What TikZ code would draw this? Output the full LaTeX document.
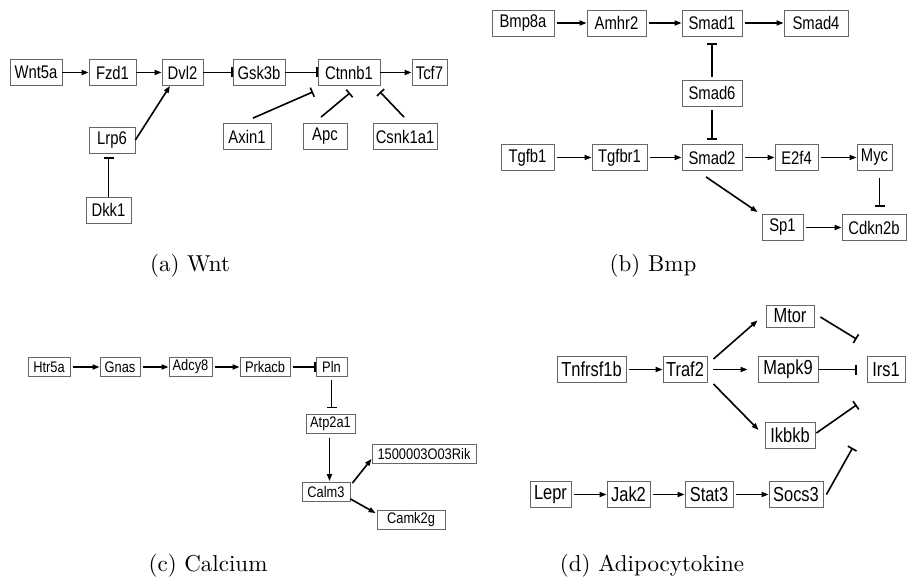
\documentclass[tikz,border=0pt]{standalone}
\usepackage{fontspec}
\usepackage{graphicx}
\newfontfamily\nodefont[FakeStretch=0.81]{Liberation Sans}
\newfontfamily\calfont[FakeStretch=0.84]{Liberation Sans}
\usetikzlibrary{arrows.meta,calc}
\definecolor{boxgray}{gray}{0.4}
\newcommand{\captxt}[1]{\scalebox{2.3}{\fontsize{10}{12}\selectfont #1}}
\tikzset{
  gbox/.style={draw=boxgray, line width=0.8pt, inner sep=1pt, minimum height=26pt, align=center},
  wntf/.style={font=\nodefont\fontsize{18.3}{19}\selectfont},
  bmpf/.style={font=\nodefont\fontsize{18.3}{19}\selectfont},
  calf/.style={font=\calfont\fontsize{15.3}{16}\selectfont, minimum height=19pt},
  adif/.style={font=\nodefont\fontsize{20.3}{21}\selectfont},
  act/.style={line width=1.6pt, -{Triangle[length=7pt,width=5pt]}},
  inh/.style={line width=1.6pt, -{Bar[width=10pt]}},
  captext/.style={anchor=base, inner sep=0pt},
}
\begin{document}
\begin{tikzpicture}[x=1pt,y=-1pt]
\useasboundingbox (0,0) rectangle (908,580);
% ---------------- (a) Wnt
\node[gbox,wntf,minimum width=52pt] (wnt5a) at (36,72.5) {Wnt5a};
\node[gbox,wntf,minimum width=47pt] (fzd1) at (112.5,72.5) {Fzd1};
\node[gbox,wntf,minimum width=41pt] (dvl2) at (182.5,72.5) {Dvl2};
\node[gbox,wntf,minimum width=52pt] (gsk3b) at (259,72.5) {Gsk3b};
\node[gbox,wntf,minimum width=62pt] (ctnnb1) at (349,72.5) {Ctnnb1};
\node[gbox,wntf,minimum width=35pt] (tcf7) at (429.5,72.5) {Tcf7};
\node[gbox,wntf,minimum width=46pt] (lrp6) at (112,140) {Lrp6};
\node[gbox,wntf,minimum width=45pt] (dkk1) at (108.5,210) {Dkk1};
\node[gbox,wntf,minimum width=48pt] (axin1) at (247,136.5) {Axin1};
\node[gbox,wntf,minimum width=44pt] (apc) at (325,136.5) {Apc};
\node[gbox,wntf,minimum width=64pt] (csnk1a1) at (405,136.5) {Csnk1a1};
\draw[act] (wnt5a.east) -- (fzd1.west);
\draw[act] (fzd1.east) -- (dvl2.west);
\draw[inh] (dvl2.east) -- (gsk3b.west);
\draw[inh] (gsk3b.east) -- (ctnnb1.west);
\draw[act] (ctnnb1.east) -- (tcf7.west);
\draw[act] (lrp6.east) -- (dvl2.227);
\draw[inh, shorten >=4pt] (dkk1.north) -- (dkk1.north |- lrp6.south);
\draw[inh] ($(axin1.north)+(6,-5)$) -- ($(ctnnb1.south)+(-36,6)$);
\draw[inh] ($(apc.north)+(-4,-6)$) -- ($(ctnnb1.south)+(1,7)$);
\draw[inh] ($(csnk1a1.north)+(-1,-6)$) -- ($(ctnnb1.south)+(31,6)$);
\node[captext] (capa) at (190,272) {\captxt{(a) Wnt}};
% ---------------- (b) Bmp
\node[gbox,bmpf,minimum width=62pt] (bmp8a) at (523,23) {Bmp8a};
\node[gbox,bmpf,minimum width=59pt] (amhr2) at (616.5,23) {Amhr2};
\node[gbox,bmpf,minimum width=60pt] (smad1) at (712,23) {Smad1};
\node[gbox,bmpf,minimum width=64pt] (smad4) at (816,23) {Smad4};
\node[gbox,bmpf,minimum width=60pt] (smad6) at (712,93) {Smad6};
\node[gbox,bmpf,minimum width=53pt] (tgfb1) at (527.5,157.5) {Tgfb1};
\node[gbox,bmpf,minimum width=55pt] (tgfbr1) at (619.5,157.5) {Tgfbr1};
\node[gbox,bmpf,minimum width=60pt] (smad2) at (712,157.5) {Smad2};
\node[gbox,bmpf,minimum width=43pt] (e2f4) at (796.5,157.5) {E2f4};
\node[gbox,bmpf,minimum width=35pt] (myc) at (874.5,157.5) {Myc};
\node[gbox,bmpf,minimum width=41pt] (sp1) at (782.5,227.5) {Sp1};
\node[gbox,bmpf,minimum width=64pt] (cdkn2b) at (874,227.5) {Cdkn2b};
\draw[act, shorten <=3pt] (bmp8a.east) -- (amhr2.west);
\draw[act, shorten <=3pt] (amhr2.east) -- (smad1.west);
\draw[act, shorten <=3pt] (smad1.east) -- (smad4.west);
\draw[inh, shorten <=3pt, shorten >=7pt] (smad6.north) -- (smad1.south);
\draw[inh, shorten <=4pt, shorten >=4pt] (smad6.south) -- (smad2.north);
\draw[act, shorten <=3pt] (tgfb1.east) -- (tgfbr1.west);
\draw[act, shorten <=3pt] (tgfbr1.east) -- (smad2.west);
\draw[act, shorten <=3pt] (smad2.east) -- (e2f4.west);
\draw[act, shorten <=3pt] (e2f4.east) -- (myc.west);
\draw[inh, shorten <=7pt, shorten >=7pt] ([xshift=5pt]myc.south) -- ([xshift=5pt]myc.south |- cdkn2b.north);
\draw[act] ($(smad2.south)+(-6,6)$) -- ($(sp1.north west)+(-4,-2)$);
\draw[act, shorten <=3pt] (sp1.east) -- (cdkn2b.west);
\node[captext] (capb) at (653,272) {\captxt{(b) Bmp}};
% ---------------- (c) Calcium
\node[gbox,calf,minimum width=42pt] (htr5a) at (49,367) {Htr5a};
\node[gbox,calf,minimum width=40pt] (gnas) at (120,367) {Gnas};
\node[gbox,calf,minimum width=43pt] (adcy8) at (190.5,367) {Adcy8};
\node[gbox,calf,minimum width=50pt] (prkacb) at (265,367) {Prkacb};
\node[gbox,calf,minimum width=31pt] (pln) at (331.5,367) {Pln};
\node[gbox,calf,minimum width=49pt] (atp2a1) at (330.5,424) {Atp2a1};
\node[gbox,calf,minimum width=104pt] (rik) at (424,454) {1500003O03Rik};
\node[gbox,calf,minimum width=48pt] (calm3) at (326,492) {Calm3};
\node[gbox,calf,minimum width=68pt] (camk2g) at (411,520) {Camk2g};
\draw[act, shorten <=3pt] (htr5a.east) -- (gnas.west);
\draw[act, shorten <=3pt] (gnas.east) -- (adcy8.west);
\draw[act, shorten <=3pt] (adcy8.east) -- (prkacb.west);
\draw[inh, shorten <=3pt] (prkacb.east) -- (pln.west);
\draw[inh, shorten <=3pt, shorten >=6pt] (pln.south) -- (pln.south |- atp2a1.north);
\draw[act, shorten <=4pt, shorten >=1pt] ([xshift=-1pt]atp2a1.south) -- ([xshift=-1pt]atp2a1.south |- calm3.north);
\draw[act] ($(calm3.north east)+(2,1)$) -- ($(rik.south west)+(0,-5)$);
\draw[act] ($(calm3.south east)+(0,-3)$) -- ($(camk2g.north west)+(-1,3)$);
\node[captext] (capc) at (208,571) {\captxt{(c) Calcium}};
% ---------------- (d) Adipocytokine
\node[gbox,adif,minimum width=48pt,minimum height=22pt] (mtor) at (790,316) {Mtor};
\node[gbox,adif,minimum width=69pt] (tnfrsf1b) at (591.5,369.5) {Tnfrsf1b};
\node[gbox,adif,minimum width=44pt] (traf2) at (685,369.5) {Traf2};
\node[gbox,adif,minimum width=60pt] (mapk9) at (788,369.5) {Mapk9};
\node[gbox,adif,minimum width=38pt] (irs1) at (886,369.5) {Irs1};
\node[gbox,adif,minimum width=50pt] (ikbkb) at (790,435) {Ikbkb};
\node[gbox,adif,minimum width=41pt] (lepr) at (550.5,494.5) {Lepr};
\node[gbox,adif,minimum width=43pt] (jak2) at (628.5,494.5) {Jak2};
\node[gbox,adif,minimum width=48pt] (stat3) at (709,494.5) {Stat3};
\node[gbox,adif,minimum width=54pt] (socs3) at (796,494.5) {Socs3};
\draw[act, shorten <=3pt] (tnfrsf1b.east) -- (traf2.west);
\draw[act] ($(traf2.north east)+(6,3)$) -- ($(mtor.south west)+(-8,-7)$);
\draw[act] ($(traf2.east)+(6,0)$) -- ($(mapk9.west)+(-10,0)$);
\draw[act] ($(traf2.south east)+(6,1)$) -- ($(ikbkb.west)+(-6,-5)$);
\draw[inh] ($(mtor.east)+(6,1)$) -- ($(irs1.north west)+(-10,-17)$);
\draw[inh] ($(mapk9.east)+(1,0)$) -- ($(irs1.west)+(-10,0)$);
\draw[inh] ($(ikbkb.east)+(1,-2)$) -- ($(irs1.south west)+(-10,22)$);
\draw[inh] ($(socs3.east)+(3,0)$) -- ($(irs1.south west)+(-14,65)$);
\draw[act, shorten <=3pt] (lepr.east) -- (jak2.west);
\draw[act, shorten <=3pt] (jak2.east) -- (stat3.west);
\draw[act, shorten <=3pt] (stat3.east) -- (socs3.west);
\node[captext] (capd) at (652,571) {\captxt{(d) Adipocytokine}};
\end{tikzpicture}
\end{document}
